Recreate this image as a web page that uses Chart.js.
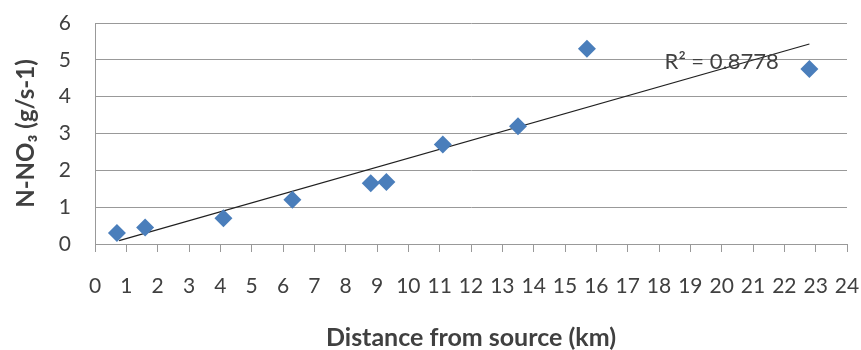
<!DOCTYPE html>
<html><head><meta charset="utf-8">
<script src="https://cdn.jsdelivr.net/npm/chart.js@4/dist/chart.umd.min.js"></script>
<style>html,body{margin:0;padding:0;background:#fff;}#wrap{width:861px;height:350px;}</style>
</head><body><div id="wrap"><canvas id="c" width="861" height="350"></canvas></div>
<script>
const distanceKm = [0.7, 1.6, 4.1, 6.3, 8.8, 9.3, 11.1, 13.5, 15.7, 22.8];
const nno3 = [0.3, 0.45, 0.7, 1.2, 1.65, 1.68, 2.7, 3.2, 5.3, 4.75];
const trendX = [0.77, 22.8];
const trendY = [0.09, 5.43];
const r2Label = 'R\u00b2 = 0.8778';
const r2Pos = [20, 4.95];
const xTitle = 'Distance from source (km)';
const yTitle = 'N-NO\u2083 (g/s-1)';

const FONT = 'Lato, "Open Sans", sans-serif';
const TXT = '#404040';
const GRID = '#999999';

const r2Plugin = {
  id: 'r2',
  afterDatasetsDraw(chart) {
    const {ctx, scales} = chart;
    const px = scales.x.getPixelForValue(r2Pos[0]);
    const py = scales.y.getPixelForValue(r2Pos[1]);
    ctx.save();
    ctx.font = '22px ' + FONT;
    ctx.fillStyle = TXT;
    ctx.textAlign = 'center';
    ctx.textBaseline = 'middle';
    ctx.fillText(r2Label, px, py);
    ctx.restore();
  }
};

function zeroPad(s) { s.paddingTop = 0; s.paddingBottom = 0; s.paddingLeft = 0; s.paddingRight = 0; }

new Chart(document.getElementById('c'), {
  type: 'scatter',
  data: {
    datasets: [
      {
        label: 'Trend',
        type: 'line',
        data: trendX.map((x, i) => ({x, y: trendY[i]})),
        borderColor: '#202020',
        borderWidth: 1.2,
        pointRadius: 0,
        fill: false,
        order: 2
      },
      {
        label: 'N-NO3',
        data: distanceKm.map((x, i) => ({x, y: nno3[i]})),
        pointStyle: 'rectRot',
        pointRadius: 9,
        pointHoverRadius: 9,
        backgroundColor: '#4a7ebb',
        borderColor: '#4a7ebb',
        borderWidth: 0,
        order: 1
      }
    ]
  },
  options: {
    responsive: false,
    animation: false,
    events: [],
    layout: {padding: {left: 0, right: 14, top: 23, bottom: 0}},
    plugins: {legend: {display: false}, tooltip: {enabled: false}},
    scales: {
      x: {
        type: 'linear',
        min: 0, max: 24,
        ticks: {stepSize: 1, color: TXT, font: {family: FONT, size: 21}, padding: 22, maxRotation: 0, autoSkip: false},
        grid: {drawOnChartArea: false, drawTicks: true, tickLength: 8, color: GRID},
        border: {display: true, color: GRID, width: 1},
        title: {display: true, text: xTitle, color: TXT, font: {family: FONT, size: 25, weight: 'bold'}, padding: {top: 0, bottom: -3}},
        afterFit(s) { s.height = 106; zeroPad(s); }
      },
      y: {
        min: 0, max: 6,
        ticks: {stepSize: 1, color: TXT, font: {family: FONT, size: 21}, padding: 24},
        grid: {color: GRID, drawTicks: false, lineWidth: 1},
        border: {display: true, color: GRID, width: 1},
        title: {display: true, text: yTitle, color: TXT, font: {family: FONT, size: 24, weight: 'bold'}, padding: {top: 12, bottom: 0}},
        afterFit(s) { s.width = 95; zeroPad(s); }
      }
    }
  },
  plugins: [r2Plugin]
});
</script>
</body></html>
